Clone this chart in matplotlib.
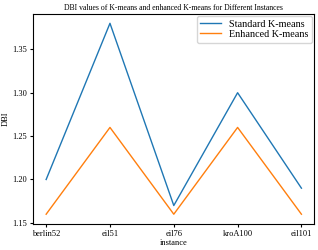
import matplotlib.pyplot as plt

plt.rcParams["font.family"] = ["Liberation Serif", "DejaVu Serif"]

instances = ["berlin52", "eil51", "eil76", "kroA100", "eil101"]
standard_dbi = [1.20, 1.38, 1.17, 1.30, 1.19]
enhanced_dbi = [1.16, 1.26, 1.16, 1.26, 1.16]

fig, ax = plt.subplots(figsize=(3.18, 2.5), dpi=100)

ax.plot(instances, standard_dbi, color="#1f77b4", linewidth=1.0, label="Standard K-means")
ax.plot(instances, enhanced_dbi, color="#ff7f0e", linewidth=1.0, label="Enhanced K-means")

ax.set_title("DBI values of K-means and enhanced K-means for Different Instances",
             fontsize=5.6, pad=3)
ax.set_xlabel("instance", fontsize=6, labelpad=1)
ax.set_ylabel("DBI", fontsize=6, labelpad=2)
ax.tick_params(labelsize=6, length=2.5, pad=2)
ax.legend(fontsize=7.3, loc="upper right", handlelength=2.0, labelspacing=0.1,
          borderpad=0.35, borderaxespad=0.25)

plt.subplots_adjust(left=0.105, right=0.988, top=0.945, bottom=0.105)
fig.savefig("out.png", dpi=100)
